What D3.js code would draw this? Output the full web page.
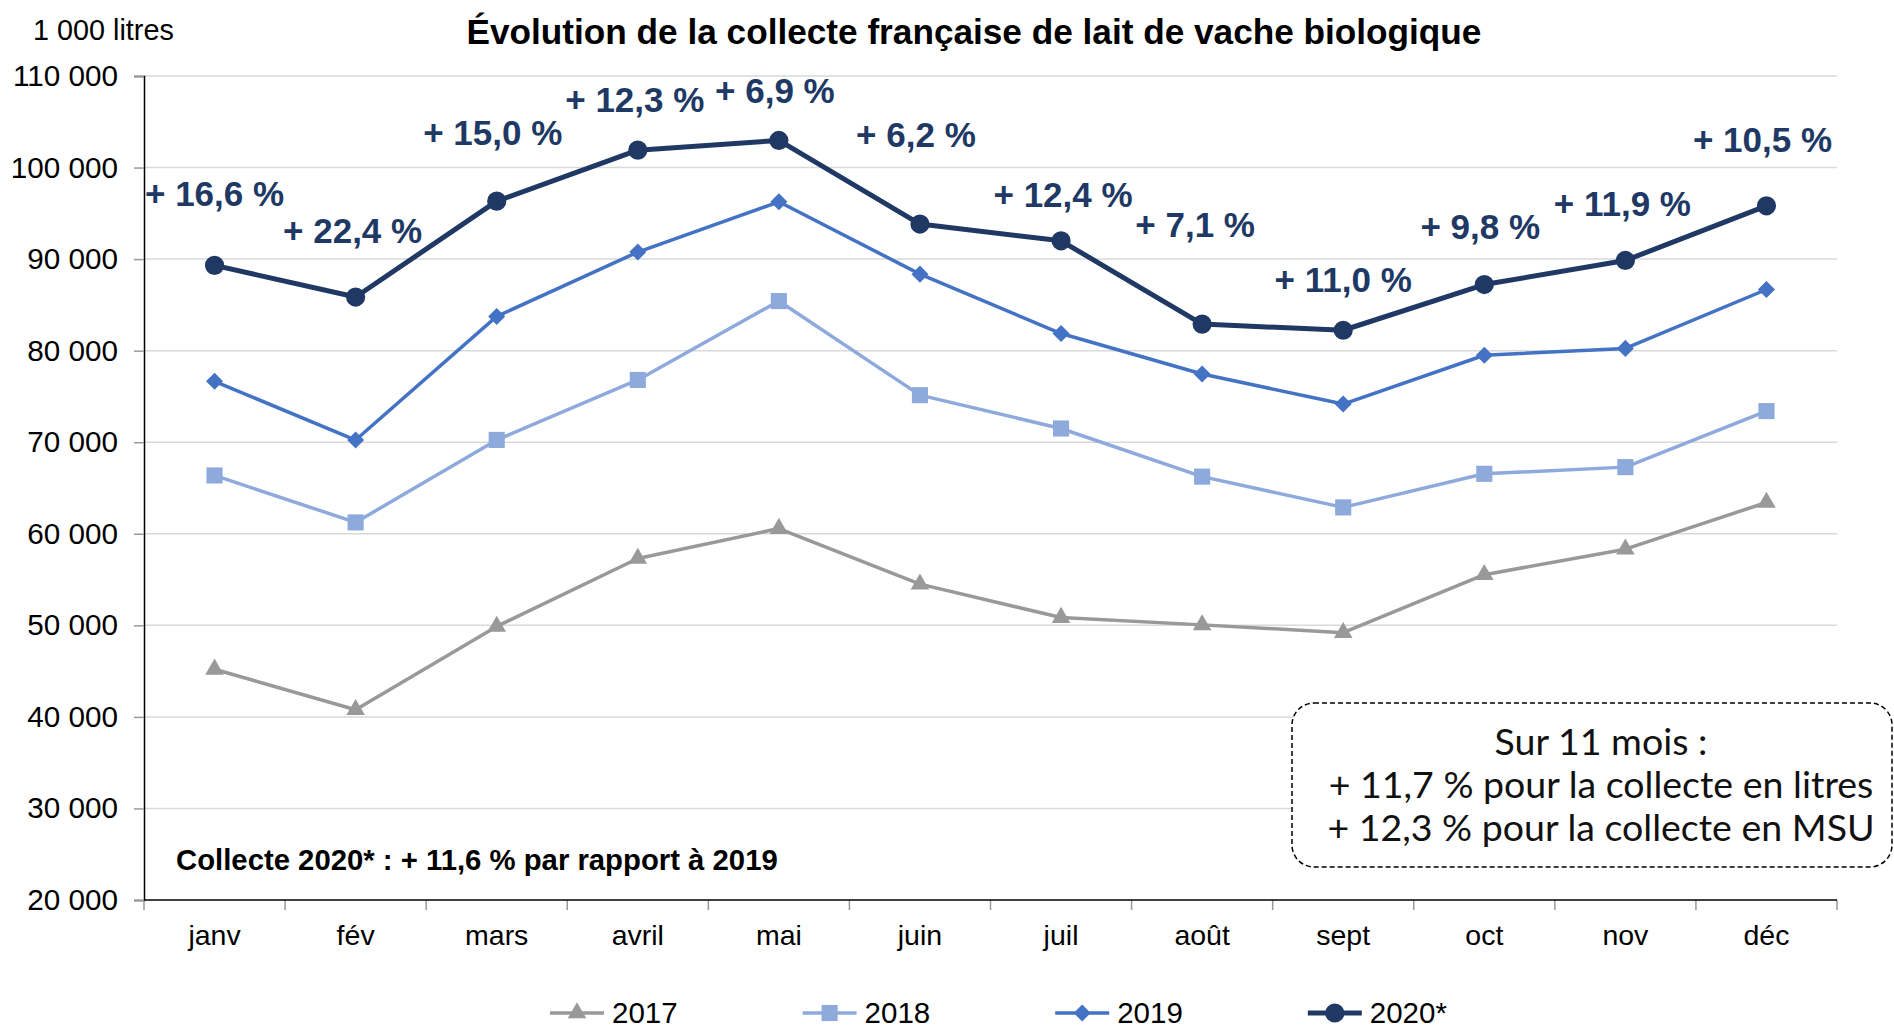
<!DOCTYPE html>
<html>
<head>
<meta charset="utf-8">
<script src="https://cdn.jsdelivr.net/npm/d3@7"></script>
<style>
  html, body { margin: 0; padding: 0; background: #fff; }
  svg { display: block; font-family: "Liberation Sans", Arial, sans-serif; }
</style>
</head>
<body>
<div id="chart"></div>
<script>
// data
var months = ["janv", "fév", "mars", "avril", "mai", "juin", "juil", "août", "sept", "oct", "nov", "déc"];
var years = ["2017", "2018", "2019", "2020*"];
var values2017 = [45200, 40780, 49880, 57300, 60570, 54500, 50850, 50050, 49200, 55530, 58320, 63420];
var values2018 = [66370, 61240, 70250, 76800, 85420, 75140, 71500, 66240, 62880, 66550, 67280, 73400];
var values2019 = [76650, 70240, 83740, 90770, 96260, 88360, 81870, 77450, 74170, 79500, 80250, 86680];
var values2020 = [89320, 85860, 96330, 101900, 102960, 93830, 92000, 82900, 82230, 87220, 89850, 95820];
var growth2020 = [16.6, 22.4, 15.0, 12.3, 6.9, 6.2, 12.4, 7.1, 11.0, 9.8, 11.9, 10.5];
var yTicks = [20000, 30000, 40000, 50000, 60000, 70000, 80000, 90000, 100000, 110000];

// label nudges (pixels) for the growth labels
var labelDx = [0, -3, -4, -3, -4, -4, 2, -7, 0, -4, -3, -4];
var labelDy = [-72, -66, -68, -50, -50, -89, -46, -99, -50, -58, -57, -66];

var series = [values2017, values2018, values2019, values2020];
var colors = ["#999999", "#8eaadc", "#4472c4", "#203864"];
var lineWidths = [3.5, 3.5, 3.5, 5];

// svg container
var svgWidth = 1894;
var svgHeight = 1029;

var margin = { top: 76, right: 57, bottom: 129, left: 144 };
var chartWidth = svgWidth - margin.left - margin.right;
var chartHeight = svgHeight - margin.top - margin.bottom;

var svg = d3.select("#chart")
            .append("svg")
            .attr("width", svgWidth)
            .attr("height", svgHeight);

var chartGroup = svg.append("g")
                    .attr("transform", `translate(${margin.left}, ${margin.top})`);

// scales
var xScale = d3.scaleBand()
               .domain(months)
               .range([0, chartWidth])
               .padding(0);
var xMid = d => xScale(d) + xScale.bandwidth() / 2;

var yScale = d3.scaleLinear()
               .domain([20000, 110000])
               .range([chartHeight, 0]);

var fr = d3.formatLocale({ decimal: ",", thousands: " ", grouping: [3], currency: ["", ""] });
var fmt = fr.format(",d");
var pct = fr.format(".1f");

// gridlines
chartGroup.append("g")
          .selectAll("line")
          .data(yTicks.slice(1))
          .enter()
          .append("line")
          .attr("x1", 0)
          .attr("x2", chartWidth)
          .attr("y1", d => yScale(d))
          .attr("y2", d => yScale(d))
          .attr("stroke", "#d9d9d9")
          .attr("stroke-width", 1.5);

// y axis
var yAxisG = chartGroup.append("g")
          .call(d3.axisLeft(yScale).tickValues(yTicks).tickFormat(fmt).tickSize(10).tickPadding(16));
yAxisG.select(".domain").attr("stroke", "#000").attr("stroke-width", 1.5);
yAxisG.selectAll(".tick line").attr("stroke", "#999").attr("stroke-width", 1.5);
yAxisG.selectAll("text").attr("font-size", 29.7).attr("fill", "#000")
      .attr("font-family", "Liberation Sans, Arial, sans-serif");

// x axis: labels at band centres, ticks at band edges
var xAxisG = chartGroup.append("g")
          .attr("transform", `translate(0, ${chartHeight})`)
          .call(d3.axisBottom(xScale).tickSize(0).tickPadding(25));
xAxisG.select(".domain").remove();
xAxisG.selectAll("text").attr("font-size", 28.5).attr("fill", "#000")
      .attr("font-family", "Liberation Sans, Arial, sans-serif");

var edgeScale = d3.scaleLinear().domain([0, months.length]).range([0, chartWidth]);
chartGroup.append("g")
          .attr("transform", `translate(0, ${chartHeight})`)
          .selectAll("line")
          .data(d3.range(months.length + 1))
          .enter()
          .append("line")
          .attr("x1", d => edgeScale(d))
          .attr("x2", d => edgeScale(d))
          .attr("y1", 0)
          .attr("y2", 10)
          .attr("stroke", "#999")
          .attr("stroke-width", 1.5);
chartGroup.append("line")
          .attr("x1", 0).attr("x2", chartWidth)
          .attr("y1", chartHeight).attr("y2", chartHeight)
          .attr("stroke", "#000").attr("stroke-width", 1.5);

// markers
var symbols = [
  d3.symbol().type(d3.symbolTriangle).size(150),
  d3.symbol().type(d3.symbolSquare).size(260),
  d3.symbol().type(d3.symbolSquare).size(145),
  d3.symbol().type(d3.symbolCircle).size(290)
];
var rotations = [0, 0, 45, 0];

// lines
var line = d3.line()
             .x((d, i) => xMid(months[i]))
             .y(d => yScale(d));

series.forEach(function(vals, s) {
  chartGroup.append("path")
            .datum(vals)
            .attr("fill", "none")
            .attr("stroke", colors[s])
            .attr("stroke-width", lineWidths[s])
            .attr("stroke-linejoin", "round")
            .attr("d", line);

  chartGroup.selectAll(".m" + s)
            .data(vals)
            .enter()
            .append("path")
            .classed("m" + s, true)
            .attr("d", symbols[s])
            .attr("fill", colors[s])
            .attr("transform", (d, i) => `translate(${xMid(months[i])}, ${yScale(d)}) rotate(${rotations[s]})`);
});

// growth labels over the 2020 line
chartGroup.selectAll(".growth")
          .data(growth2020)
          .enter()
          .append("text")
          .classed("growth", true)
          .attr("x", (d, i) => xMid(months[i]) + labelDx[i])
          .attr("y", (d, i) => yScale(values2020[i]) + labelDy[i])
          .attr("dy", "0.35em")
          .attr("text-anchor", "middle")
          .attr("font-size", 35)
          .attr("font-weight", "bold")
          .attr("fill", "#203864")
          .text(d => "+ " + pct(d) + " %");

// title and unit
svg.append("text")
   .attr("x", 974)
   .attr("y", 44)
   .attr("text-anchor", "middle")
   .attr("font-size", 35.2)
   .attr("font-weight", "bold")
   .text("Évolution de la collecte française de lait de vache biologique");

svg.append("text")
   .attr("x", 33)
   .attr("y", 40)
   .attr("font-size", 28.8)
   .text("1 000 litres");

// bottom-left note
svg.append("text")
   .attr("x", 176)
   .attr("y", 870)
   .attr("font-size", 29.3)
   .attr("font-weight", "bold")
   .text("Collecte 2020* : + 11,6 % par rapport à 2019");

// dashed box
var box = svg.append("g");
box.append("rect")
   .attr("x", 1292)
   .attr("y", 703)
   .attr("width", 600)
   .attr("height", 164)
   .attr("rx", 22)
   .attr("fill", "#fff")
   .attr("stroke", "#000")
   .attr("stroke-width", 1.5)
   .attr("stroke-dasharray", "5,3");
var boxLines = ["Sur 11 mois :", "+ 11,7 % pour la collecte en litres", "+ 12,3 % pour la collecte en MSU"];
box.selectAll("text")
   .data(boxLines)
   .enter()
   .append("text")
   .attr("x", 1601)
   .attr("y", (d, i) => 755 + i * 43)
   .attr("text-anchor", "middle")
   .attr("font-family", "Lato, 'Noto Sans', sans-serif")
   .attr("font-size", 37.5)
   .attr("fill", "#111")
   .text(d => d);

// legend
var legend = svg.append("g").attr("transform", "translate(550, 1013)");
var items = legend.selectAll("g")
                  .data(years)
                  .enter()
                  .append("g")
                  .attr("transform", (d, i) => `translate(${i * 252.6}, 0)`);
items.append("line")
     .attr("x1", 0).attr("x2", 54)
     .attr("y1", 0).attr("y2", 0)
     .attr("stroke", (d, i) => colors[i])
     .attr("stroke-width", (d, i) => lineWidths[i]);
items.append("path")
     .attr("d", (d, i) => symbols[i]())
     .attr("fill", (d, i) => colors[i])
     .attr("transform", (d, i) => `translate(27, 0) rotate(${rotations[i]})`);
items.append("text")
     .attr("x", 62)
     .attr("y", 0)
     .attr("dy", "0.35em")
     .attr("font-size", 29.5)
     .text(d => d);
</script>
</body>
</html>
